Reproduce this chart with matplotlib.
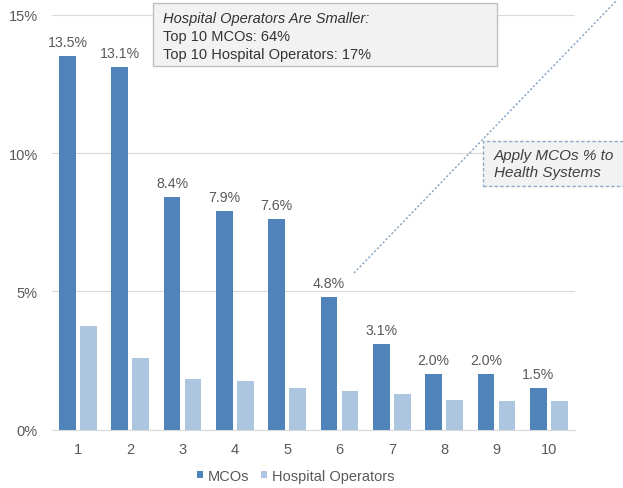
import numpy as np
import matplotlib.pyplot as plt
from matplotlib.patches import Rectangle

ranks = ['1', '2', '3', '4', '5', '6', '7', '8', '9', '10']
mco_share = [13.5, 13.1, 8.4, 7.9, 7.6, 4.8, 3.1, 2.0, 2.0, 1.5]
hospital_share = [3.74, 2.6, 1.82, 1.77, 1.52, 1.41, 1.30, 1.09, 1.03, 1.04]
y_ticks = [0, 5, 10, 15]

dark = '#4f83ba'
light = '#adc6df'
grey = '#595959'

plt.rcParams['font.family'] = ['Liberation Sans', 'DejaVu Sans']

W, H = 623, 489
fig = plt.figure(figsize=(W / 100, H / 100), dpi=100)
ax = fig.add_axes([51.7 / W, 1 - 430.7 / H, 523.3 / W, 415 / H])


def px(x, y):
    # figure pixel (from top-left) -> figure fraction
    return x / W, 1 - y / H


x = np.arange(len(ranks))
w = 0.32
ax.bar(x - 0.2, mco_share, width=w, color=dark, label='MCOs', zorder=3)
ax.bar(x + 0.2, hospital_share, width=w, color=light, label='Hospital Operators', zorder=3)

for xi, v in zip(x, mco_share):
    ax.annotate(f'{v:.1f}%', (xi - 0.2, v), xytext=(0, 5), textcoords='offset points',
                ha='center', va='bottom', fontsize=10.2, color=grey)

ax.set_xlim(-0.5, 9.5)
ax.set_ylim(0, 15)
ax.set_xticks(x)
ax.set_xticklabels(ranks)
ax.set_yticks(y_ticks)
ax.set_yticklabels([f'{t}%' for t in y_ticks])
ax.tick_params(axis='both', length=0, labelsize=10.5, colors=grey)
ax.tick_params(axis='x', pad=9)
ax.tick_params(axis='y', pad=10)
ax.grid(axis='y', color='#d9d9d9', linewidth=0.8, zorder=0)
for s in ['top', 'right', 'left']:
    ax.spines[s].set_visible(False)
ax.spines['bottom'].set_color('#d9d9d9')

ax.legend(loc='center', bbox_to_anchor=px(295.5, 477), bbox_transform=fig.transFigure,
          ncol=2, frameon=False, fontsize=10.5, handlelength=0.4, handleheight=0.4,
          handletextpad=0.35, columnspacing=0.8, labelcolor=grey)

# callout box at top
x0, y0 = px(152.7, 66.7)
x1, y1 = px(496.7, 4)
fig.add_artist(Rectangle((x0, y0), x1 - x0, y1 - y0, transform=fig.transFigure,
                         facecolor='#f2f2f2', edgecolor='#bfbfbf', linewidth=1.0))
fig.text(*px(163, 19), 'Hospital Operators Are Smaller:', fontsize=10.5, color='#333333',
         style='italic', va='center', ha='left')
fig.text(*px(163, 37), 'Top 10 MCOs: 64%', fontsize=10.5, color='#333333', va='center', ha='left')
fig.text(*px(163, 55), 'Top 10 Hospital Operators: 17%', fontsize=10.5, color='#333333',
         va='center', ha='left')

# dotted guide line and side box
(lx0, ly0), (lx1, ly1) = px(354, 274), px(618, 0)
fig.add_artist(plt.Line2D([lx0, lx1], [ly0, ly1], transform=fig.transFigure,
                          color='#7f9fbf', linestyle=(0, (1.5, 1.5)), linewidth=1.0))
bx0, by0 = px(483, 187.3)
bx1, by1 = px(625, 141.7)
fig.add_artist(Rectangle((bx0, by0), bx1 - bx0, by1 - by0, transform=fig.transFigure,
                         facecolor='#f2f2f2', edgecolor='#8eaacb', linewidth=1.0,
                         linestyle=(0, (2.5, 1.5))))
fig.text(*px(494, 156), 'Apply MCOs % to', fontsize=11, color='#404040', style='italic',
         va='center', ha='left')
fig.text(*px(494, 173.3), 'Health Systems', fontsize=11, color='#404040', style='italic',
         va='center', ha='left')

fig.savefig('out.png', dpi=100)
